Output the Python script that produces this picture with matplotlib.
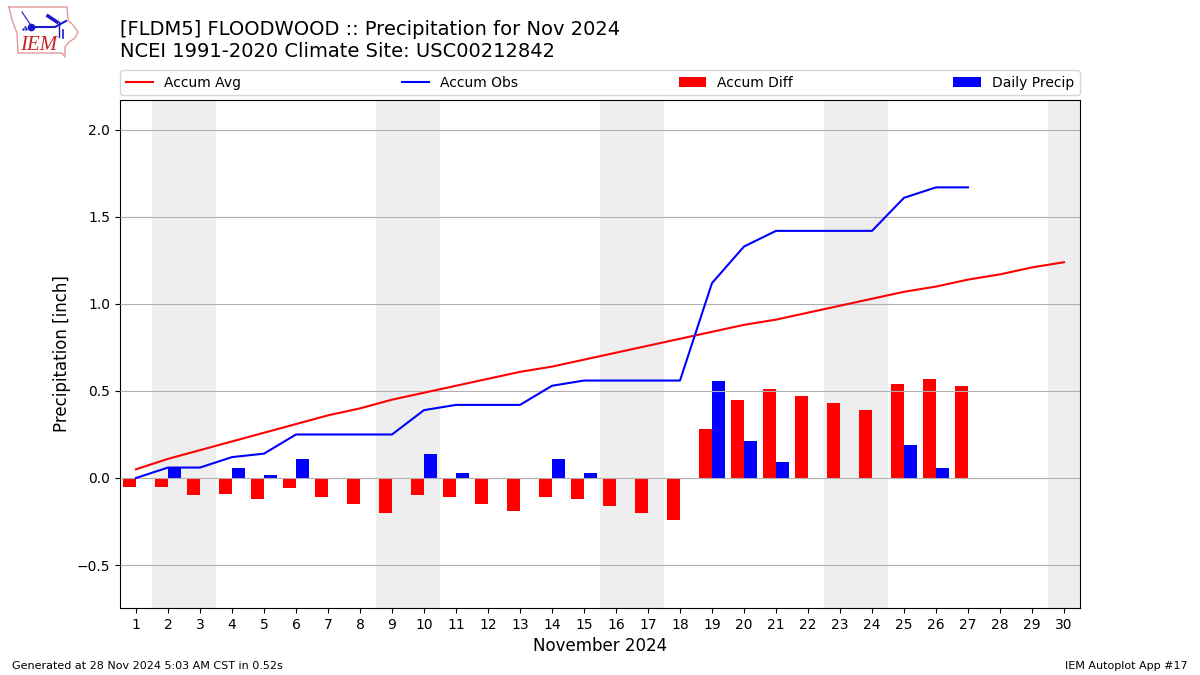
import numpy as np
import matplotlib
matplotlib.use("Agg")
import matplotlib.pyplot as plt

days = list(range(1, 31))
accum_avg = [0.05, 0.11, 0.16, 0.21, 0.26, 0.31, 0.36, 0.40, 0.45, 0.49,
             0.53, 0.57, 0.61, 0.64, 0.68, 0.72, 0.76, 0.80, 0.84, 0.88,
             0.91, 0.95, 0.99, 1.03, 1.07, 1.10, 1.14, 1.17, 1.21, 1.24]
accum_obs = [0.00, 0.06, 0.06, 0.12, 0.14, 0.25, 0.25, 0.25, 0.25, 0.39,
             0.42, 0.42, 0.42, 0.53, 0.56, 0.56, 0.56, 0.56, 1.12, 1.33,
             1.42, 1.42, 1.42, 1.42, 1.61, 1.67, 1.67]
accum_diff = [-0.05, -0.05, -0.10, -0.09, -0.12, -0.06, -0.11, -0.15, -0.20, -0.10,
              -0.11, -0.15, -0.19, -0.11, -0.12, -0.16, -0.20, -0.24, 0.28, 0.45,
              0.51, 0.47, 0.43, 0.39, 0.54, 0.57, 0.53]
daily_precip = [0.00, 0.06, 0.00, 0.06, 0.02, 0.11, 0.00, 0.00, 0.00, 0.14,
                0.03, 0.00, 0.00, 0.11, 0.03, 0.00, 0.00, 0.00, 0.56, 0.21,
                0.09, 0.00, 0.00, 0.00, 0.19, 0.06, 0.00]
weekends = [(1.5, 3.5), (8.5, 10.5), (15.5, 17.5), (22.5, 24.5), (29.5, 30.5)]

fig = plt.figure(figsize=(12, 6.75), dpi=100)
ax = fig.add_axes([0.1, 1 - 608 / 675, 0.8, 508 / 675])

for start, end in weekends:
    ax.axvspan(start, end, color="#eeeeee", lw=0, zorder=0)

obs_days = np.array(days[:len(accum_obs)])
ax.bar(obs_days - 0.2, accum_diff, width=0.4, color="r", label="Accum Diff", zorder=2)
ax.bar(obs_days + 0.2, daily_precip, width=0.4, color="b", label="Daily Precip", zorder=2)
ax.plot(days, accum_avg, color="r", label="Accum Avg", zorder=3)
ax.plot(obs_days, accum_obs, color="b", label="Accum Obs", zorder=3)

ax.set_xlim(0.5, 30.5)
ax.set_ylim(-0.747, 2.172)
ax.set_xticks(days)
ax.set_yticks([-0.5, 0, 0.5, 1.0, 1.5, 2.0])
ax.grid(axis="y", color="#b0b0b0", zorder=1)
ax.set_axisbelow(False)
for grid_line in ax.get_ygridlines():
    grid_line.set_zorder(1)
ax.set_xlabel("November 2024", fontsize=12)
ax.set_ylabel("Precipitation [inch]", fontsize=12)

handles, labels = ax.get_legend_handles_labels()
order = [labels.index(n) for n in ["Accum Avg", "Accum Obs", "Accum Diff", "Daily Precip"]]
ax.legend([handles[i] for i in order], [labels[i] for i in order], ncol=4, mode="expand",
          loc="lower left", bbox_to_anchor=(0, 1.0095, 1, 0.05), borderaxespad=0, fontsize=10)

fig.text(0.1, 1 - 61 / 675,
         "[FLDM5] FLOODWOOD :: Precipitation for Nov 2024\nNCEI 1991-2020 Climate Site: USC00212842",
         fontsize=14, ha="left", va="bottom", linespacing=1.2)
fig.text(12 / 1200, 1 - 671 / 675, "Generated at 28 Nov 2024 5:03 AM CST in 0.52s", fontsize=8, ha="left", va="bottom")
fig.text(1188 / 1200, 1 - 671 / 675, "IEM Autoplot App #17", fontsize=8, ha="right", va="bottom")

# IEM logo, pixel coords
logo = fig.add_axes([0, 1 - 60 / 675, 84 / 1200, 60 / 675])
logo.set_xlim(0, 84)
logo.set_ylim(60, 0)
logo.axis("off")
iowa_x = [9, 67, 68, 73, 78, 75, 69, 65, 65, 62, 18, 17, 12, 9]
iowa_y = [7, 7, 20, 25, 32, 38, 42, 47, 57, 53, 53, 33, 20, 7]
logo.plot(iowa_x, iowa_y, color="#e39a9a", lw=1)
logo.plot([31, 55, 66], [27, 27, 21], color="#1a1acc", lw=1.5)
logo.plot([31], [27], "o", color="#1a1acc", ms=4.5)
logo.plot([48, 57], [16, 22], color="#1a1acc", lw=2.5)
logo.plot([59, 59], [22, 37], color="#1a1acc", lw=1)
logo.plot([63, 63], [30, 38], color="#1a1acc", lw=1.2)
logo.plot([22, 30], [12, 24], color="#1a1acc", lw=0.8)
logo.plot([25, 23, 26], [27, 29, 29], ".", color="#1a1acc", ms=1.5)
logo.text(20.5, 45, "IEM", color="#cc2222", fontsize=15, family="Liberation Serif",
          style="italic", ha="left", va="center")

fig.savefig("out.png", dpi=100)
